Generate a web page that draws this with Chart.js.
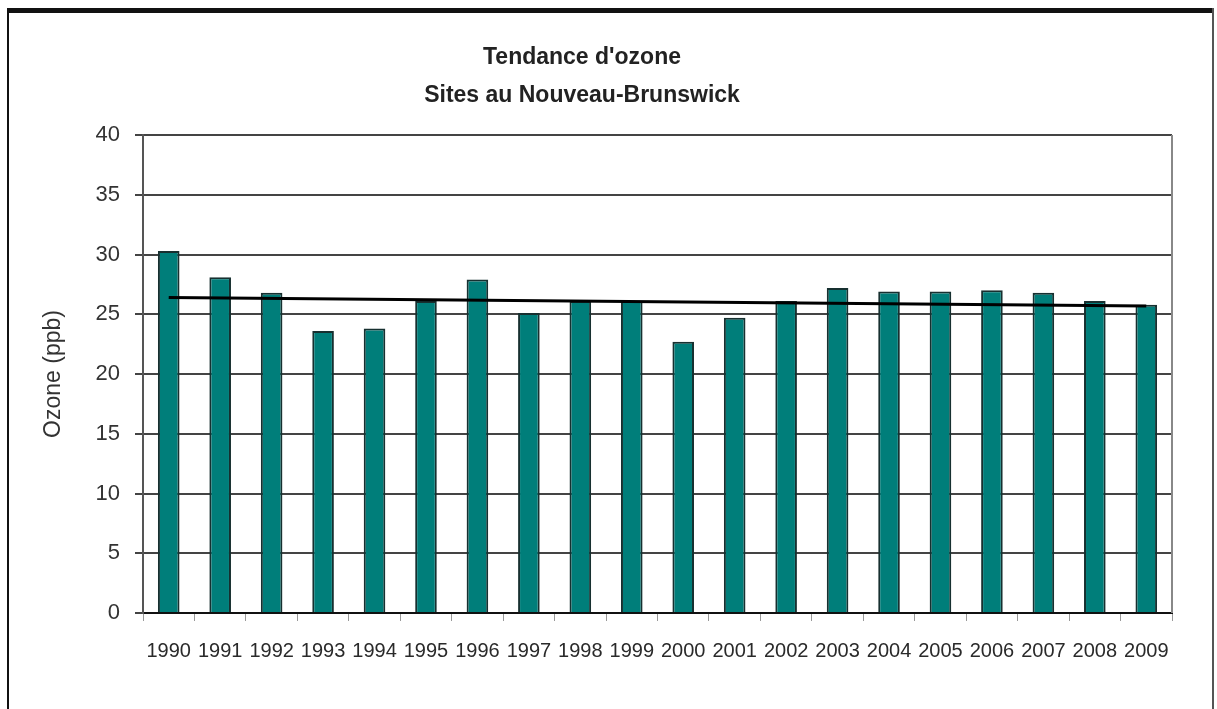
<!DOCTYPE html>
<html>
<head>
<meta charset="utf-8">
<title>Tendance d'ozone</title>
<script src="https://cdn.jsdelivr.net/npm/chart.js@4.4.1/dist/chart.umd.min.js"></script>
<style>
  html, body { margin: 0; padding: 0; background: #fff; }
  #wrap { width: 1217px; height: 709px; }
</style>
</head>
<body>
<div id="wrap"><canvas id="ozone" width="1217" height="709"></canvas></div>
<script>
const years = ['1990', '1991', '1992', '1993', '1994', '1995', '1996', '1997', '1998', '1999',
  '2000', '2001', '2002', '2003', '2004', '2005', '2006', '2007', '2008', '2009']
const ozone = [30.3, 28.1, 26.8, 23.6, 23.8, 26.1, 27.9, 25.1, 26.1, 26.1,
  22.7, 24.7, 26.1, 27.2, 26.9, 26.9, 27.0, 26.8, 26.1, 25.8]
// trend line ends
const trendStart = 26.4
const trendEnd = 25.7
const yTicks = [0, 5, 10, 15, 20, 25, 30, 35, 40]
const titleLines = ["Tendance d'ozone", 'Sites au Nouveau-Brunswick']

const trend = years.map((y, i) => i === 0 ? trendStart : (i === years.length - 1 ? trendEnd : null))

const fontFamily = "'Liberation Sans', Arial, sans-serif"

// outer frame, right edge of the plot, and the title (sits a bit left of centre)
const framePlugin = {
  id: 'frame',
  beforeDraw(chart) {
    const ctx = chart.ctx
    ctx.save()
    ctx.fillStyle = '#fff'
    ctx.fillRect(0, 0, chart.width, chart.height)
    ctx.fillStyle = '#111'
    ctx.fillRect(7, 8, 1207, 5)
    ctx.fillRect(7, 8, 2, 701)
    ctx.fillStyle = '#555'
    ctx.fillRect(1212, 8, 2, 701)

    ctx.fillStyle = '#222'
    ctx.font = 'bold 23px ' + fontFamily
    ctx.textAlign = 'center'
    ctx.textBaseline = 'middle'
    ctx.fillText(titleLines[0], 582, 58)
    ctx.fillText(titleLines[1], 582, 96)
    ctx.restore()
  },
  afterDatasetsDraw(chart) {
    const a = chart.chartArea
    const ctx = chart.ctx
    ctx.save()
    ctx.strokeStyle = '#888'
    ctx.lineWidth = 2
    ctx.beginPath()
    ctx.moveTo(a.right, a.top)
    ctx.lineTo(a.right, a.bottom)
    ctx.stroke()
    ctx.restore()
  }
}

new Chart(document.getElementById('ozone'), {
  type: 'bar',
  data: {
    labels: years,
    datasets: [
      {
        type: 'line',
        label: 'Tendance',
        data: trend,
        spanGaps: true,
        borderColor: '#000',
        borderWidth: 3,
        pointRadius: 0,
        fill: false,
        order: 0
      },
      {
        label: 'Ozone (ppb)',
        data: ozone,
        backgroundColor: '#007e7a',
        borderColor: '#173030',
        borderWidth: 2,
        barPercentage: 0.42,
        categoryPercentage: 1,
        order: 1
      }
    ]
  },
  options: {
    responsive: false,
    animation: false,
    layout: {
      padding: { left: 36, right: 45, top: 135, bottom: 0 }
    },
    plugins: {
      legend: { display: false },
      tooltip: { enabled: false },
      title: { display: false }
    },
    scales: {
      x: {
        offset: true,
        grid: { display: true, drawOnChartArea: false, offset: true, tickLength: 8, color: '#999', lineWidth: 1 },
        border: { display: true, color: '#111', width: 2 },
        ticks: {
          color: '#2a2a2a',
          maxRotation: 0,
          autoSkip: false,
          padding: 18,
          font: { family: fontFamily, size: 20 }
        },
        afterFit(s) { s.height = 96 }
      },
      y: {
        min: 0,
        max: 40,
        afterBuildTicks(s) { s.ticks = yTicks.map(v => ({ value: v })) },
        grid: { color: '#444', lineWidth: 2, tickLength: 8 },
        border: { display: true, color: '#555', width: 2 },
        ticks: {
          color: '#333',
          padding: 15,
          font: { family: fontFamily, size: 22 }
        },
        title: {
          display: true,
          text: 'Ozone (ppb)',
          color: '#333',
          font: { family: fontFamily, size: 23 },
          padding: { top: 4, bottom: 0 }
        },
        afterFit(s) { s.width = 107 }
      }
    }
  },
  plugins: [framePlugin]
})
</script>
</body>
</html>
